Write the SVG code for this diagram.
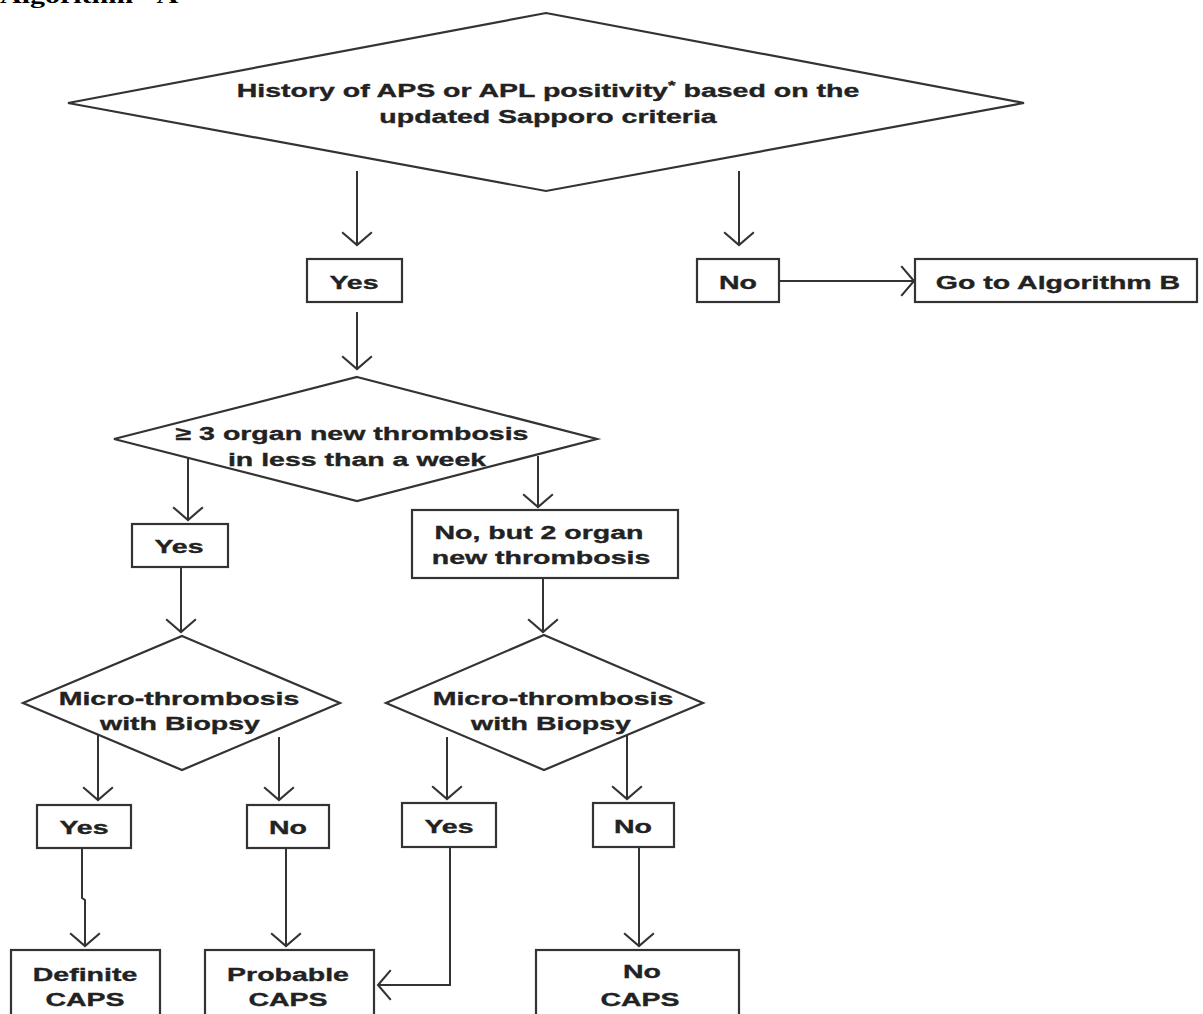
<svg xmlns="http://www.w3.org/2000/svg" width="1203" height="1014" viewBox="0 0 1203 1014">
  <style>
    .shape { fill: #ffffff; stroke: #333333; stroke-width: 2.2; }
    .conn { fill: none; stroke: #333333; stroke-width: 2; marker-end: url(#chev); }
    .lbl { font-family: "Liberation Sans", Arial, sans-serif; font-weight: bold; font-size: 19px; fill: #222222; stroke: #222222; stroke-width: 0.35; text-anchor: middle; }
    .title { font-family: "Liberation Serif", "Times New Roman", serif; font-weight: bold; font-size: 20px; fill: #000000; }
  </style>
  <defs>
    <marker id="chev" markerUnits="userSpaceOnUse" markerWidth="30" markerHeight="34" viewBox="-14 -16 16 32" refX="0" refY="0" orient="auto">
      <path d="M-12,-14 L0,0 L-12,14" fill="none" stroke="#333333" stroke-width="2"/>
    </marker>
  </defs>
  <rect width="1203" height="1014" fill="#ffffff"/>

  <text class="title" transform="translate(0,3) scale(1.5,1)">Algorithm - A</text>

  <g id="connectors">
    <line class="conn" x1="357" y1="171" x2="357" y2="245"/>
    <line class="conn" x1="739" y1="171" x2="739" y2="245"/>
    <line class="conn" x1="779" y1="281" x2="914" y2="281"/>
    <line class="conn" x1="357" y1="312" x2="357" y2="369"/>
    <line class="conn" x1="188" y1="457" x2="188" y2="520"/>
    <line class="conn" x1="538" y1="456" x2="538" y2="507"/>
    <line class="conn" x1="181" y1="567" x2="181" y2="632"/>
    <line class="conn" x1="543" y1="578" x2="543" y2="632"/>
    <line class="conn" x1="98" y1="735" x2="98" y2="800"/>
    <line class="conn" x1="279" y1="737" x2="279" y2="800"/>
    <line class="conn" x1="447" y1="737" x2="447" y2="799"/>
    <line class="conn" x1="627" y1="735" x2="627" y2="799"/>
    <path class="conn" d="M82,848 V898 L85,900 V946"/>
    <line class="conn" x1="286" y1="848" x2="286" y2="946"/>
    <path class="conn" d="M450,847 V985 H378"/>
    <line class="conn" x1="639" y1="847" x2="639" y2="946"/>
  </g>

  <g id="node-history">
    <polygon class="shape" points="546,13 1024,103 546,191 68,103"/>
    <text class="lbl" transform="translate(548,97) scale(1.5,1)">History of APS or APL positivity<tspan font-size="13" dy="-7">*</tspan><tspan dy="7"> based on the</tspan></text>
    <text class="lbl" transform="translate(548,123) scale(1.5,1)">updated Sapporo criteria</text>
  </g>

  <g id="node-yes-top">
    <rect class="shape" x="307" y="259" width="95" height="43"/>
    <text class="lbl" transform="translate(354,289) scale(1.5,1)">Yes</text>
  </g>

  <g id="node-no-top">
    <rect class="shape" x="697" y="259" width="82" height="43"/>
    <text class="lbl" transform="translate(738,289) scale(1.5,1)">No</text>
  </g>

  <g id="node-go-b">
    <rect class="shape" x="915" y="259" width="282" height="43"/>
    <text class="lbl" transform="translate(1058,289) scale(1.5,1)">Go to Algorithm B</text>
  </g>

  <g id="node-organ3">
    <polygon class="shape" points="357,377 597,439 357,501 114,439"/>
    <text class="lbl" transform="translate(352,440) scale(1.5,1)">≥ 3 organ new thrombosis</text>
    <text class="lbl" transform="translate(357,466) scale(1.5,1)">in less than a week</text>
  </g>

  <g id="node-yes-organ">
    <rect class="shape" x="132" y="524" width="96" height="43"/>
    <text class="lbl" transform="translate(179,553) scale(1.5,1)">Yes</text>
  </g>

  <g id="node-organ2">
    <rect class="shape" x="412" y="510" width="266" height="68"/>
    <text class="lbl" transform="translate(539,539) scale(1.5,1)">No, but 2 organ</text>
    <text class="lbl" transform="translate(541,564) scale(1.5,1)">new thrombosis</text>
  </g>

  <g id="node-biopsy-left">
    <polygon class="shape" points="182,636 340,703 182,770 23,703"/>
    <text class="lbl" transform="translate(179,705) scale(1.5,1)">Micro-thrombosis</text>
    <text class="lbl" transform="translate(180,730) scale(1.5,1)">with Biopsy</text>
  </g>

  <g id="node-biopsy-right">
    <polygon class="shape" points="544,635 703,703 544,770 386,703"/>
    <text class="lbl" transform="translate(553,705) scale(1.5,1)">Micro-thrombosis</text>
    <text class="lbl" transform="translate(551,730) scale(1.5,1)">with Biopsy</text>
  </g>

  <g id="node-yes-left">
    <rect class="shape" x="37" y="805" width="94" height="43"/>
    <text class="lbl" transform="translate(84,834) scale(1.5,1)">Yes</text>
  </g>

  <g id="node-no-left">
    <rect class="shape" x="247" y="805" width="82" height="43"/>
    <text class="lbl" transform="translate(288,834) scale(1.5,1)">No</text>
  </g>

  <g id="node-yes-right">
    <rect class="shape" x="402" y="803" width="94" height="44"/>
    <text class="lbl" transform="translate(449,833) scale(1.5,1)">Yes</text>
  </g>

  <g id="node-no-right">
    <rect class="shape" x="593" y="803" width="81" height="44"/>
    <text class="lbl" transform="translate(633,833) scale(1.5,1)">No</text>
  </g>

  <g id="node-definite">
    <rect class="shape" x="11" y="950" width="149" height="80"/>
    <text class="lbl" transform="translate(85,981) scale(1.5,1)">Definite</text>
    <text class="lbl" transform="translate(85,1006) scale(1.5,1)">CAPS</text>
  </g>

  <g id="node-probable">
    <rect class="shape" x="205" y="950" width="169" height="80"/>
    <text class="lbl" transform="translate(288,981) scale(1.5,1)">Probable</text>
    <text class="lbl" transform="translate(288,1006) scale(1.5,1)">CAPS</text>
  </g>

  <g id="node-no-caps">
    <rect class="shape" x="536" y="950" width="203" height="80"/>
    <text class="lbl" transform="translate(642,978) scale(1.5,1)">No</text>
    <text class="lbl" transform="translate(640,1006) scale(1.5,1)">CAPS</text>
  </g>
</svg>
